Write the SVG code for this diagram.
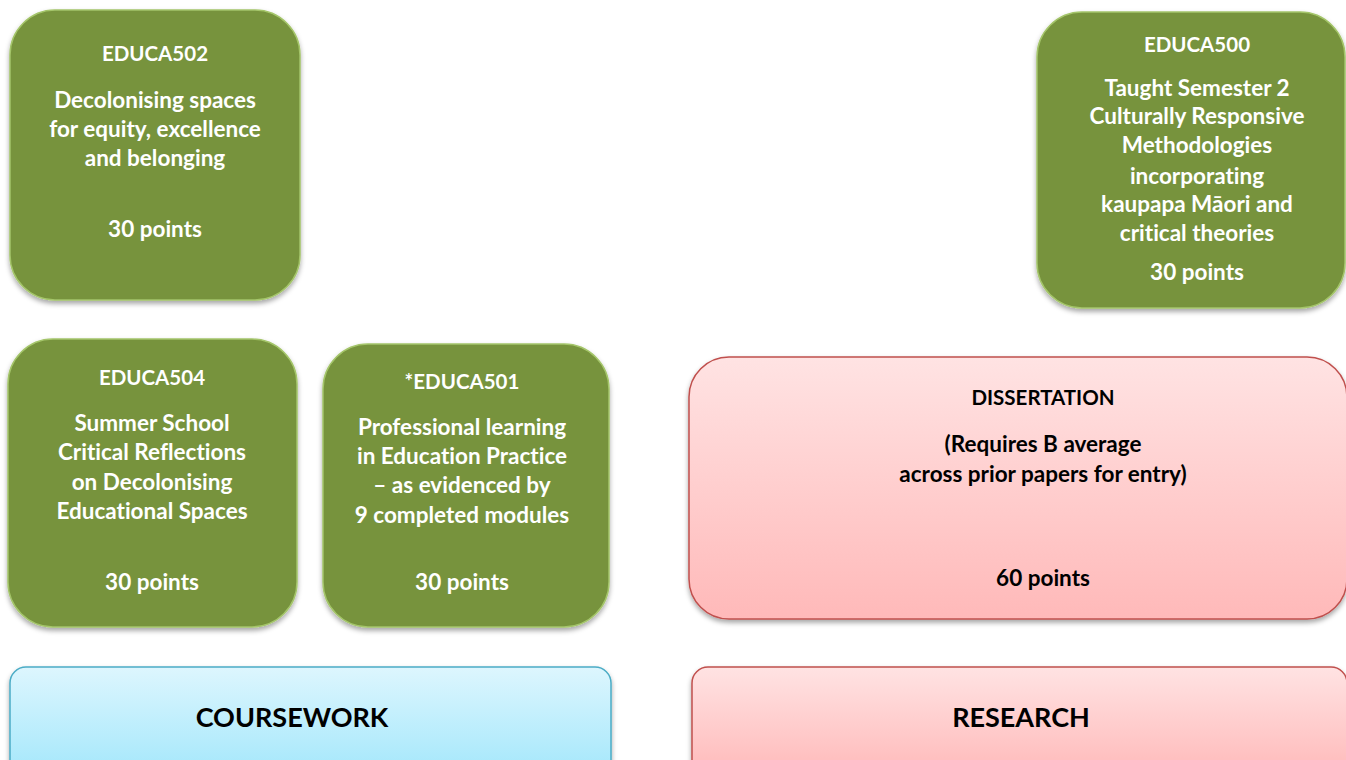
<svg xmlns="http://www.w3.org/2000/svg" width="1346" height="760" viewBox="0 0 1346 760">
<defs>
<filter id="sh" x="-10%" y="-10%" width="120%" height="125%">
<feDropShadow dx="0" dy="3" stdDeviation="2.5" flood-color="#000" flood-opacity="0.35"/>
</filter>
<linearGradient id="pink" x1="0" y1="0" x2="0" y2="1">
<stop offset="0" stop-color="#FFE3E3"/>
<stop offset="1" stop-color="#FFB9B9"/>
</linearGradient>
<linearGradient id="blue" x1="0" y1="0" x2="0" y2="1">
<stop offset="0" stop-color="#DDF6FE"/>
<stop offset="1" stop-color="#A3E7FB"/>
</linearGradient>
<style>
.g{fill:#77933C;stroke:#A4C56A;stroke-width:1.5;filter:url(#sh)}
.p{fill:url(#pink);stroke:#C0504D;stroke-width:1.5;filter:url(#sh)}
.b{fill:url(#blue);stroke:#4BACC6;stroke-width:1.5;filter:url(#sh)}
text{font-family:Lato,"Liberation Sans",sans-serif;font-weight:bold;text-anchor:middle;dominant-baseline:central;font-variant-ligatures:none}
.w{fill:#fff;font-size:22.5px}
.t{fill:#fff;font-size:20.5px}
.k{fill:#000;font-size:22.5px}
.kt{fill:#000;font-size:20.5px}
.big{fill:#000;font-size:27px}
</style>
</defs>
<g id="educa502">
<rect class="g" x="10" y="10" width="290" height="290" rx="45"/>
<text class="t" x="155" y="53">EDUCA502</text>
<text class="w" x="155" y="99">Decolonising spaces</text>
<text class="w" x="155" y="128">for equity, excellence</text>
<text class="w" x="155" y="157">and belonging</text>
<text class="w" x="155" y="228">30 points</text>
</g>
<g id="educa500">
<rect class="g" x="1037" y="12" width="308" height="296" rx="45"/>
<text class="t" x="1197" y="44">EDUCA500</text>
<text class="w" x="1197" y="87">Taught Semester 2</text>
<text class="w" x="1197" y="115">Culturally Responsive</text>
<text class="w" x="1197" y="144">Methodologies</text>
<text class="w" x="1197" y="175">incorporating</text>
<text class="w" x="1197" y="203">kaupapa Māori and</text>
<text class="w" x="1197" y="232">critical theories</text>
<text class="w" x="1197" y="271">30 points</text>
</g>
<g id="educa504">
<rect class="g" x="8" y="339" width="289" height="288" rx="45"/>
<text class="t" x="152" y="377">EDUCA504</text>
<text class="w" x="152" y="422">Summer School</text>
<text class="w" x="152" y="451">Critical Reflections</text>
<text class="w" x="152" y="481">on Decolonising</text>
<text class="w" x="152" y="510">Educational Spaces</text>
<text class="w" x="152" y="581">30 points</text>
</g>
<g id="educa501">
<rect class="g" x="323" y="344" width="286" height="283" rx="45"/>
<text class="t" x="462" y="381">*EDUCA501</text>
<text class="w" x="462" y="426">Professional learning</text>
<text class="w" x="462" y="455">in Education Practice</text>
<text class="w" x="462" y="484">– as evidenced by</text>
<text class="w" x="462" y="514">9 completed modules</text>
<text class="w" x="462" y="581">30 points</text>
</g>
<g id="dissertation">
<rect class="p" x="689" y="357" width="658" height="262" rx="40"/>
<text class="kt" x="1043" y="397">DISSERTATION</text>
<text class="k" x="1043" y="443">(Requires B average</text>
<text class="k" x="1043" y="473">across prior papers for entry)</text>
<text class="k" x="1043" y="577">60 points</text>
</g>
<g id="coursework">
<rect class="b" x="10" y="667" width="601" height="110" rx="16"/>
<text class="big" x="292" y="716">COURSEWORK</text>
</g>
<g id="research">
<rect class="p" x="692" y="667" width="655" height="110" rx="16"/>
<text class="big" x="1021" y="716">RESEARCH</text>
</g>
<g id="connectors"/>
</svg>
